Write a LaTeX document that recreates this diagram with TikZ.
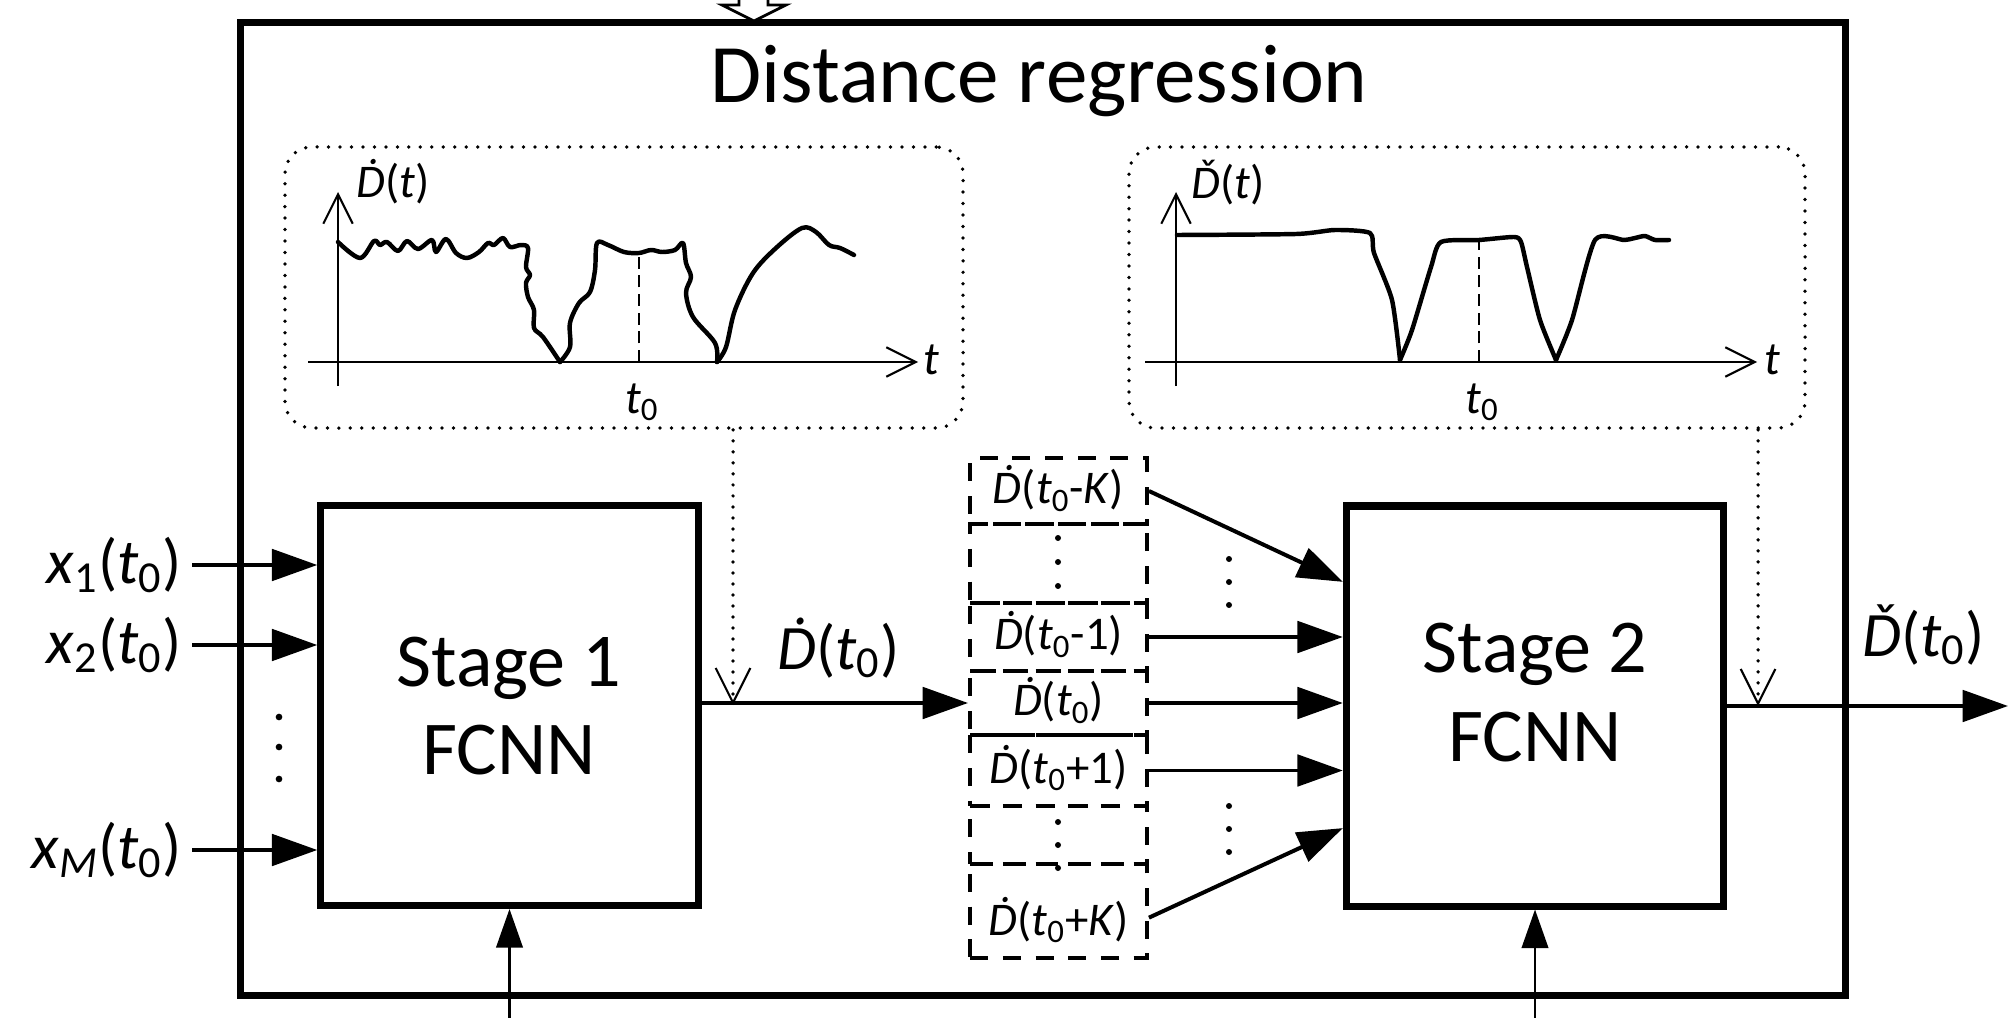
\documentclass[tikz,border=0pt]{standalone}
\usepackage{fontspec}
\setmainfont{Carlito}
\usetikzlibrary{arrows.meta,positioning,calc}

\newcommand{\fs}[1]{\fontsize{#1}{#1}\selectfont}
\newcommand{\dotD}{\textit{Ḋ}}
\newcommand{\chkD}{\textit{Ď}}
\newcommand{\tzero}{\textit{t}\textsubscript{0}}

\begin{document}
\begin{tikzpicture}[x=0.15mm, y=-0.15mm,
    frame/.style={rectangle, draw, line width=3pt,
        minimum width=240.6mm, minimum height=145.8mm},
    stagebox/.style={rectangle, draw, line width=3pt,
        minimum width=56.6mm, minimum height=60mm},
    stagetext/.style={font=\fs{32.5}, anchor=base, inner sep=0pt},
    rowbox/.style={rectangle, draw, line width=1.8pt,
        dash pattern=on 2.7mm off 2.2mm, minimum width=26.5mm,
        inner sep=0pt, font=\fs{20}, text height=16pt, text depth=5pt},
    plotbox/.style={rectangle, draw, line width=1.6pt, line cap=round,
        dash pattern=on 0pt off 1.72mm, rounded corners=4mm,
        minimum height=42.15mm},
    arr/.style={-{Triangle[length=6.8mm, width=4.7mm]}, line width=1.7pt},
    thinarr/.style={-{Triangle[length=5.8mm, width=4mm]}, line width=0.9pt},
    dotarr/.style={-{Straight Barb[length=5.2mm, width=5.2mm, line width=0.9pt]},
        line width=1.6pt, line cap=round, dash pattern=on 0pt off 1.65mm},
    axis/.style={-{Straight Barb[length=4.4mm, width=4.4mm]}, line width=0.9pt},
    curve/.style={line width=1.9pt, line join=round, line cap=round},
    tline/.style={line width=0.7pt, dash pattern=on 1.8mm off 1mm},
    iolabel/.style={font=\fs{27}, inner sep=0pt},
    plotlabel/.style={font=\fs{20}, inner sep=0pt}
]
    \useasboundingbox (0,0) rectangle (2014,1018);

    % frame, title and the input on top
    \node[frame] (frame) at (1043,509) {};
    \node[font=\fs{35.5}, anchor=base] (title) at (1039,103) {Distance regression};
    \draw[line width=1.2pt, fill=white, line join=miter]
        (739,-3) -- (739,5) -- (722,5) -- (754,21) -- (786,5) -- (768,5) -- (768,-3);

    % plot of stage 1 output
    \node[plotbox, minimum width=101.7mm] (pl1) at (624,287.5) {};
    \draw[axis] (308,362) -- (918,362);
    \draw[axis] (338,386) -- (338,192);
    \node[plotlabel, anchor=base west] (pl1y) at (356,198) {\dotD(\textit{t})};
    \node[plotlabel, anchor=base west] (pl1x) at (923,375) {\textit{t}};
    \node[plotlabel, anchor=base] (pl1t) at (642,413) {\tzero};
    \draw[tline] (639,362) -- (639,253);
    \draw[curve] plot[smooth, tension=0.55] coordinates {(338,242) (360,258) (374,241)
        (380,245) (387,242) (398,251) (407,241) (418,249) (432,240) (436,252) (446,239)
        (456,253) (467,258) (479,252) (488,243) (494,245) (503,238) (510,247) (521,245)
        (528,248) (526,267) (530,275) (526,283) (528,297) (534,310) (534,328) (543,337)
        (560,362)};
    \draw[curve] plot[smooth, tension=0.55] coordinates {(560,362) (570,347) (570,323)
        (579,303) (590,292) (595,270) (597,243) (608,245) (624,252) (639,253) (651,250)
        (662,252) (675,250) (683,243) (686,263) (691,277) (686,293) (693,317) (715,343)
        (717,362)};
    \draw[curve] plot[smooth, tension=0.55] coordinates {(717,362) (726,347) (735,310)
        (753,273) (776,248) (802,228) (816,232) (829,245) (840,248) (854,255)};

    % plot of stage 2 output
    \node[plotbox, minimum width=101.4mm] (pl2) at (1467,287.5) {};
    \draw[axis] (1145,362) -- (1757,362);
    \draw[axis] (1176,386) -- (1176,192);
    \node[plotlabel, anchor=base west] (pl2y) at (1191,199) {\chkD(\textit{t})};
    \node[plotlabel, anchor=base west] (pl2x) at (1764,375) {\textit{t}};
    \node[plotlabel, anchor=base] (pl2t) at (1482,413) {\tzero};
    \draw[tline] (1479,362) -- (1479,240);
    \draw[curve] plot[smooth, tension=0.4] coordinates {(1177,235) (1296,234) (1335,230)
        (1370,233) (1374,253) (1392,300) (1400,360)};
    \draw[curve] plot[smooth, tension=0.4] coordinates {(1400,360) (1412,330) (1431,267)
        (1441,242) (1479,240) (1514,237) (1521,242) (1527,267) (1540,320) (1556,360)};
    \draw[curve] plot[smooth, tension=0.4] coordinates {(1556,360) (1572,320) (1595,240)
        (1624,240) (1635,238) (1645,236) (1655,240) (1669,240)};

    % stage 1
    \node[stagebox] (st1) at (509.5,705.5) {};
    \node[stagetext] (st1a) at (509,686) {Stage 1};
    \node[stagetext] (st1b) at (509,774) {FCNN};
    \node[iolabel, anchor=east, inner xsep=1.5mm] (x1) at (192,565)
        {\textit{x}\textsubscript{1}(\tzero)};
    \node[iolabel, anchor=east, inner xsep=1.5mm] (x2) at (192,645)
        {\textit{x}\textsubscript{2}(\tzero)};
    \node[iolabel, anchor=east, inner xsep=1.5mm] (xM) at (192,850)
        {\textit{x}\textsubscript{\textit{M}}(\tzero)};
    \draw[arr] (x1.east) -- (x1.east -| st1.west);
    \draw[arr] (x2.east) -- (x2.east -| st1.west);
    \draw[arr] (xM.east) -- (xM.east -| st1.west);
    \foreach \y in {717,747,779} \fill (279,\y) circle[radius=0.5mm];

    % delayed samples
    \node[rowbox, minimum height=9.9mm] (r1) at (1058.5,491) {\dotD(\tzero-\textit{K})};
    \node[rowbox, minimum height=11.85mm] (r2) at (1058.5,563.5) {};
    \node[rowbox, minimum height=10.2mm] (r3) at (1058.5,637) {\dotD(\tzero-1)};
    \node[rowbox, minimum height=9.6mm] (r4) at (1058.5,703) {\dotD(\tzero)};
    \node[rowbox, minimum height=10.65mm] (r5) at (1058.5,770.5) {\dotD(\tzero+1)};
    \node[rowbox, minimum height=8.7mm] (r6) at (1058.5,835) {};
    \node[rowbox, minimum height=14.1mm, text height=26pt] (r7) at (1058.5,911)
        {\dotD(\tzero+\textit{K})};
    \foreach \y in {538,562,586,822,845,868} \fill (1058,\y) circle[radius=0.45mm];
    \foreach \y in {559,582,605,806,829,852} \fill (1229,\y) circle[radius=0.45mm];

    \draw[arr] (st1.east |- r4.west) -- (r4.west);
    \node[iolabel, anchor=base west] (d0) at (777,669) {\dotD(\tzero)};
    \coordinate (tap1) at (733,705);
    \draw[dotarr] (tap1 |- pl1.south) -- (tap1);

    % stage 2
    \node[stagebox] (st2) at (1535,706) {};
    \node[stagetext] (st2a) at (1535,672) {Stage 2};
    \node[stagetext] (st2b) at (1535,761) {FCNN};
    \draw[arr] (r1.east) -- ($(st2.north west)!0.195!(st2.south west)$);
    \draw[arr] (r3.east) -- (r3.east -| st2.west);
    \draw[arr] (r4.east) -- (r4.east -| st2.west);
    \draw[arr] (r5.east) -- (r5.east -| st2.west);
    \draw[arr] ([yshift=-1mm]r7.east) -- ($(st2.north west)!0.8!(st2.south west)$);

    \coordinate (out) at (2008,706);
    \draw[arr] (st2.east) -- (out);
    \node[iolabel, anchor=base west] (dout) at (1862,656) {\chkD(\tzero)};
    \coordinate (tap2) at (1758,706);
    \draw[dotarr] (tap2 |- pl2.south) -- (tap2);

    % parameters from below
    \coordinate (in1) at (509.5,1022);
    \coordinate (in2) at (1535,1022);
    \draw[thinarr] (in1) -- (st1.south);
    \draw[thinarr] (in2) -- (st2.south);
\end{tikzpicture}
\end{document}
